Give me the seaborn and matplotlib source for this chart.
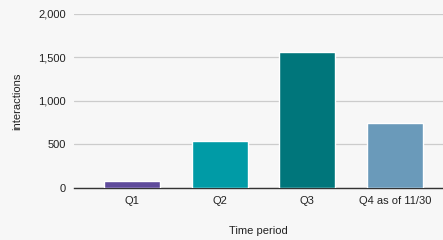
import matplotlib
matplotlib.use("Agg")
import matplotlib.pyplot as plt
import seaborn as sns
import pandas as pd

periods = ["Q1", "Q2", "Q3", "Q4 as of 11/30"]
interactions = [78, 545, 1560, 748]
colors = ["#5f4b9b", "#009ba6", "#00767b", "#6a9aba"]

sns.set_style("white")
plt.rcParams["font.family"] = ["Liberation Sans", "DejaVu Sans"]

df = pd.DataFrame({"period": periods, "interactions": interactions})

fig = plt.figure(figsize=(4.43, 2.40), dpi=100, facecolor="#f7f7f7")
ax = fig.add_axes([0.167, 0.217, 0.833, 0.725])
ax.set_facecolor("#f7f7f7")

sns.barplot(data=df, x="period", y="interactions", hue="period",
            palette=colors, saturation=1, width=0.64, legend=False,
            ax=ax, zorder=3)

ax.set_ylim(0, 2000)
ax.set_xlim(-0.667, 3.55)
ax.set_yticks([0, 500, 1000, 1500, 2000])
ax.set_yticklabels(["0", "500", "1,000", "1,500", "2,000"])
ax.yaxis.grid(True, color="#cccccc", linewidth=0.9, zorder=0)
ax.set_axisbelow(True)
for s in ["top", "right", "left"]:
    ax.spines[s].set_visible(False)
ax.spines["bottom"].set_color("#333333")
ax.spines["bottom"].set_linewidth(1.0)
ax.tick_params(axis="both", length=0, labelsize=8, colors="#222222", pad=6)
ax.set_xlabel("Time period", fontsize=8, color="#222222", labelpad=14)
ax.set_ylabel("interactions", fontsize=8, color="#222222", labelpad=11)

fig.savefig("out.png", dpi=100, facecolor=fig.get_facecolor())
